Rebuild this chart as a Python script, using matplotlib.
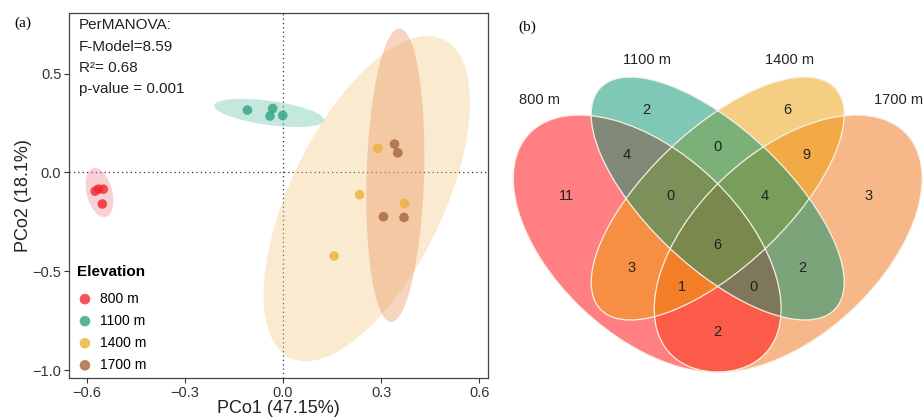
import numpy as np
import matplotlib
matplotlib.use("Agg")
from matplotlib import pyplot as plt
from matplotlib.patches import Ellipse

plt.rcParams['font.family'] = ['Liberation Sans', 'DejaVu Sans']

# ---- panel (a): PCoA scores ----
groups = ['800 m', '1100 m', '1400 m', '1700 m']
pco1_800 = [-0.575, -0.565, -0.550, -0.553]
pco2_800 = [-0.095, -0.085, -0.085, -0.160]
pco1_1100 = [-0.109, -0.032, -0.040, -0.001]
pco2_1100 = [0.315, 0.323, 0.285, 0.288]
pco1_1400 = [0.290, 0.234, 0.371, 0.156]
pco2_1400 = [0.121, -0.113, -0.157, -0.423]
pco1_1700 = [0.341, 0.351, 0.307, 0.370]
pco2_1700 = [0.143, 0.099, -0.224, -0.228]
permanova_text = ['PerMANOVA:', 'F-Model=8.59', 'R\u00b2= 0.68', 'p-value = 0.001']

point_colors = ['#F2262F', '#2FA283', '#EEAF35', '#A5653C']
ellipse_colors = ['#EE7C88', '#6CC3AE', '#F2C47A', '#EC9560']
ellipse_alpha = [0.35, 0.4, 0.35, 0.4]

# ---- panel (b): Venn counts ----
venn_sets = ['800 m', '1100 m', '1400 m', '1700 m']
regions = ['A', 'B', 'C', 'D', 'AB', 'BC', 'CD', 'ABC', 'BCD', 'ABCD',
           'AC', 'BD', 'ACD', 'ABD', 'AD']
region_counts = [11, 2, 6, 3, 4, 0, 9, 0, 4, 6, 3, 2, 1, 0, 2]


def cov_trob(pts, nu=5, maxit=25, tol=0.01):
    # multivariate t robust estimate, like MASS::cov.trob
    n, p = pts.shape
    loc = pts.mean(axis=0)
    w = np.ones(n)
    for _ in range(maxit):
        w0 = w
        X = pts - loc
        _, d, vt = np.linalg.svd(np.sqrt(w / w.sum())[:, None] * X, full_matrices=False)
        wX = X @ vt.T @ np.diag(1 / d)
        Q = (wX ** 2).sum(axis=1)
        w = (nu + p) / (nu + Q)
        loc = (w[:, None] * pts).sum(axis=0) / w.sum()
        if np.all(np.abs(w - w0) < tol):
            break
    cov = (np.sqrt(w)[:, None] * X).T @ (np.sqrt(w)[:, None] * X) / n
    return loc, cov


def ellipse_patch(x, y, level=0.95, **kw):
    pts = np.column_stack([x, y])
    loc, cov = cov_trob(pts)
    dfd = len(x) - 1
    # qf(level, 2, dfd) in closed form
    fq = dfd / 2 * ((1 - level) ** (-2 / dfd) - 1)
    radius = np.sqrt(2 * fq)
    vals, vecs = np.linalg.eigh(cov)
    ang = np.degrees(np.arctan2(vecs[1, 1], vecs[0, 1]))
    return Ellipse(loc, 2 * radius * np.sqrt(vals[1]), 2 * radius * np.sqrt(vals[0]),
                   angle=ang, **kw)


fig = plt.figure(figsize=(9.24, 4.19), dpi=100)

ax = fig.add_axes([69/924, 1-378/419, (488-69)/924, (378-13)/419])
xs = [pco1_800, pco1_1100, pco1_1400, pco1_1700]
ys = [pco2_800, pco2_1100, pco2_1400, pco2_1700]

ax.axhline(0, color='#333333', lw=0.9, ls=(0, (1, 2.5)), zorder=1)
ax.axvline(0, color='#333333', lw=0.9, ls=(0, (1, 2.5)), zorder=1)

for x, y, c, a in zip(xs, ys, ellipse_colors, ellipse_alpha):
    ax.add_patch(ellipse_patch(x, y, facecolor=c, edgecolor='none', alpha=a, zorder=2))

for x, y, c, g in zip(xs, ys, point_colors, groups):
    ax.scatter(x, y, s=48, color=c, alpha=0.8, edgecolors='none', zorder=3, label=g)

ax.set_xlim(-0.655, 0.627)
ax.set_ylim(-1.04, 0.806)
ax.set_xticks([-0.6, -0.3, 0.0, 0.3, 0.6])
ax.set_yticks([0.5, 0.0, -0.5, -1.0])
ax.tick_params(labelsize=10.5, color='#333333', labelcolor='#333333', length=3.5,
               width=0.8, pad=2)
for s in ax.spines.values():
    s.set_color('#444444')
    s.set_linewidth(0.9)
ax.set_xlabel('PCo1 (47.15%)', fontsize=13, color='#222222', labelpad=0)
ax.set_ylabel('PCo2 (18.1%)', fontsize=13, color='#222222', labelpad=0)

for i, t in enumerate(permanova_text):
    ax.text(0.023, 0.985 - i*0.058, t, transform=ax.transAxes, fontsize=11,
            color='#222222', va='top', ha='left')

leg = ax.legend(loc='lower left', bbox_to_anchor=(-0.005, -0.01), frameon=False,
                title='Elevation', fontsize=10, title_fontproperties={'weight': 'bold', 'size': 11},
                handlelength=1.2, handletextpad=0.5, labelspacing=0.58,
                borderaxespad=0.3, markerscale=1.1)
leg._legend_box.align = 'left'
leg._legend_box.sep = 9

fig.text(23/924, 1-23/419, '(a)', fontsize=11, family='Liberation Serif',
         ha='center', va='center')

# ---- panel (b) ----
bx = fig.add_axes([490/924, 0, 434/924, 1])
bx.set_xlim(0.0155, 0.939)
bx.set_ylim(0.0814, 1.010)
bx.axis('off')

venn_colors = ['#FF0008', '#02936F', '#EF9F07', '#F17115']
venn_shapes = [((0.35, 0.47), 0.35, 0.20, 135),
               ((0.50, 0.57), 0.35, 0.15, 135),
               ((0.50, 0.57), 0.35, 0.15, 45),
               ((0.65, 0.47), 0.35, 0.20, 45)]
draw_order = [3, 0, 2, 1]
for k, i in enumerate(draw_order):
    (cx, cy), a, b, ang = venn_shapes[i]
    bx.add_patch(Ellipse((cx, cy), 2*a, 2*b, angle=ang, facecolor=venn_colors[i],
                         alpha=0.5, edgecolor='none', zorder=2+k))
for (cx, cy), a, b, ang in venn_shapes:
    bx.add_patch(Ellipse((cx, cy), 2*a, 2*b, angle=ang, facecolor='none',
                         edgecolor='#F6F1E4', lw=0.9, zorder=8))

region_pos = {'A': (0.179, 0.576), 'B': (0.348, 0.767), 'C': (0.649, 0.767),
              'D': (0.821, 0.576), 'AB': (0.306, 0.667), 'BC': (0.5, 0.685),
              'CD': (0.689, 0.667), 'ABC': (0.399, 0.576), 'BCD': (0.599, 0.576),
              'ABCD': (0.5, 0.467), 'AC': (0.317, 0.415), 'BD': (0.679, 0.415),
              'ACD': (0.423, 0.375), 'ABD': (0.576, 0.375), 'AD': (0.5, 0.275)}
for reg, n in zip(regions, region_counts):
    px, py = region_pos[reg]
    bx.text(px, py, str(n), fontsize=10.5, ha='center', va='center', color='#222222', zorder=9)

set_pos = [(0.121, 0.789), (0.349, 0.877), (0.652, 0.877), (0.884, 0.789)]
for name, (px, py) in zip(venn_sets, set_pos):
    bx.text(px, py, name, fontsize=10.5, ha='center', va='center', color='#222222')

fig.text(527/924, 1-27/419, '(b)', fontsize=11, family='Liberation Serif',
         ha='center', va='center')

fig.savefig('out.png', dpi=100)
